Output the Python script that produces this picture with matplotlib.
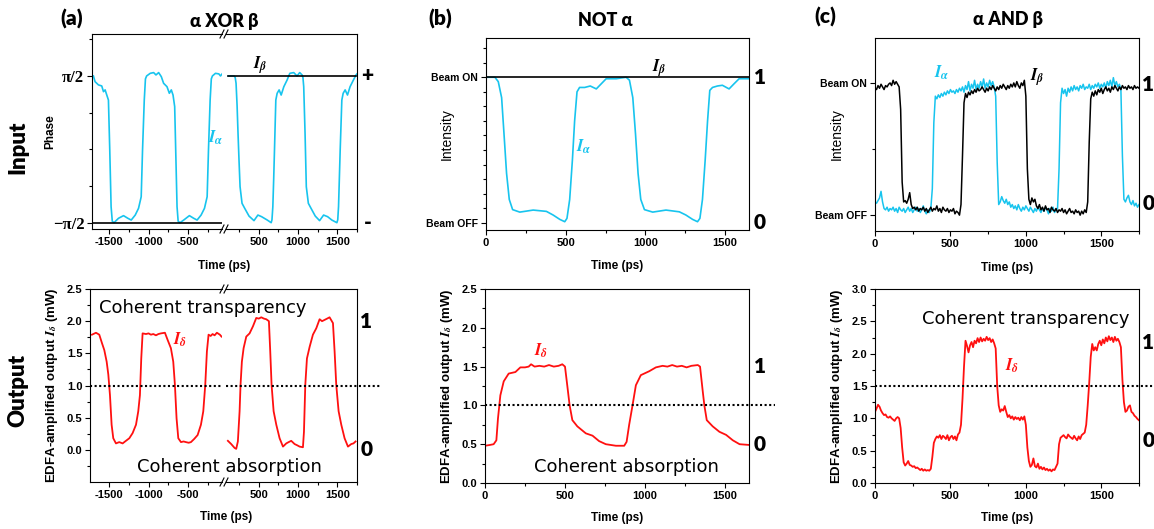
import numpy as np
import matplotlib
matplotlib.use('Agg')
import matplotlib.pyplot as plt
from matplotlib.lines import Line2D
from matplotlib.ticker import MultipleLocator, FixedLocator
from matplotlib.transforms import blended_transform_factory as btf

plt.rcParams['mathtext.fontset'] = 'stix'
plt.rcParams['font.family'] = ['Liberation Sans', 'DejaVu Sans']
plt.rcParams['font.weight'] = 'bold'
plt.rcParams['axes.labelweight'] = 'bold'
plt.rcParams['axes.unicode_minus'] = False

# ---------------- data ----------------
# (a) input: phase of I_alpha in units of pi (broken time axis)
a_in_left_t = [-1702, -1681, -1638, -1596, -1574, -1553, -1532, -1511, -1494, -1477, -1462, -1440,
               -1383, -1319, -1264, -1221, -1170, -1128, -1094, -1077, -1055, -1040, -1025,
               -979, -936, -906, -872, -838, -809, -766, -736, -711, -689, -668, -655, -638, -624, -600,
               -553, -481, -426, -383, -332, -289, -255, -238, -217, -202, -188, -149, -106, -85, -51]
a_in_left_v = [0.5, 0.461, 0.439, 0.432, 0.393, 0.405, 0.370, 0.336, -0.005, -0.391, -0.49, -0.5,
               -0.470, -0.452, -0.470, -0.482, -0.448, -0.402, -0.323, -0.005, 0.336, 0.48, 0.5,
               0.518, 0.523, 0.507, 0.523, 0.495, 0.45, 0.427, 0.382, 0.405, 0.370, 0.291, -0.005, -0.391, -0.49, -0.5,
               -0.482, -0.452, -0.470, -0.482, -0.448, -0.402, -0.323, -0.005, 0.336, 0.48, 0.5, 0.518, 0.514, 0.5, 0.523]
a_in_right_t = [114, 186, 200, 211, 224, 236, 249, 262, 287, 321, 376, 439, 489, 536, 608, 658, 668, 679,
                690, 700, 717, 734, 759, 785, 819, 861, 895, 945, 987, 1021, 1051, 1062, 1072, 1089, 1105,
                1131, 1165, 1219, 1274, 1325, 1376, 1430, 1494, 1505, 1515, 1536, 1557, 1574, 1599, 1629,
                1662, 1705, 1738, 1750]
a_in_right_v = [0.5, 0.5, 0.49, 0.45, 0.30, 0.109, -0.08, -0.255, -0.368, -0.402, -0.455, -0.486, -0.448,
                -0.459, -0.482, -0.5, -0.48, -0.391, -0.2, -0.005, 0.336, 0.382, 0.405, 0.370, 0.427, 0.473,
                0.518, 0.523, 0.5, 0.523, 0.507, 0.49, 0.427, 0.109, -0.255, -0.368, -0.402, -0.455, -0.486,
                -0.448, -0.459, -0.482, -0.5, -0.48, -0.391, -0.005, 0.336, 0.382, 0.405, 0.370, 0.427,
                0.473, 0.507, 0.514]
a_beta_left_t = [-1720, -66]
a_beta_left_v = [-0.5, -0.5]
a_beta_right_t = [107, 1740]
a_beta_right_v = [0.5, 0.5]

# (a) output (mW)
a_out_left_t = [-1720, -1669, -1627, -1593, -1563, -1533, -1512, -1491, -1470, -1449,
                -1415, -1373, -1330, -1288, -1245, -1203, -1160, -1131, -1110, -1093,
                -1076, -1033, -1000, -970, -940, -906, -875, -843, -792, -758,
                -716, -686, -665, -644, -622, -588, -555, -525, -490, -461,
                -419, -376, -334, -304, -279, -258, -237, -210, -186, -160,
                -131, -93, -72]
a_out_left_v = [1.79, 1.82, 1.79, 1.66, 1.55, 1.37, 1.17, 0.85, 0.39, 0.18,
                0.10, 0.12, 0.10, 0.14, 0.18, 0.26, 0.39, 0.60, 0.85, 1.42,
                1.81, 1.80, 1.81, 1.79, 1.80, 1.78, 1.80, 1.81, 1.82, 1.71,
                1.58, 1.37, 1.01, 0.49, 0.18, 0.12, 0.13, 0.12, 0.11, 0.12,
                0.17, 0.23, 0.39, 0.60, 1.01, 1.53, 1.79, 1.77, 1.80, 1.78,
                1.82, 1.79, 1.76]
a_out_right_t = [107, 149, 192, 213, 234, 256, 268, 285, 307, 341,
                 383, 426, 468, 500, 532, 565, 595, 629, 646, 663,
                 689, 723, 765, 808, 850, 880, 913, 956, 990, 1020,
                 1062, 1075, 1092, 1113, 1147, 1189, 1232, 1274, 1305, 1338,
                 1370, 1401, 1444, 1465, 1486, 1516, 1550, 1592, 1635, 1677,
                 1705, 1732]
a_out_right_v = [0.14, 0.09, 0.03, 0.015, 0.13, 0.60, 1.01, 1.37, 1.58, 1.76,
                 1.81, 1.92, 2.05, 2.04, 2.06, 2.04, 2.03, 2.00, 1.53, 1.01,
                 0.60, 0.39, 0.18, 0.05, 0.10, 0.12, 0.14, 0.09, 0.07, 0.05,
                 0.04, 0.28, 1.01, 1.42, 1.60, 1.79, 1.89, 2.03, 2.00, 2.02,
                 2.04, 2.06, 1.97, 1.53, 1.01, 0.60, 0.39, 0.18, 0.05, 0.09,
                 0.10, 0.13]

# (b) input intensity (normalised)
b_in_t = [0, 56, 77, 98, 113, 129, 146, 167, 212, 296, 379, 421, 463, 494, 508, 525, 542, 556, 571,
          587, 619, 654, 692, 723, 754, 817, 879, 900, 921, 938, 954, 971, 994, 1046, 1129, 1213,
          1254, 1296, 1327, 1342, 1358, 1375, 1390, 1404, 1421, 1452, 1483, 1525, 1556, 1588, 1646]
b_in_v = [1.0, 1.0, 0.97, 0.86, 0.61, 0.34, 0.16, 0.09, 0.073, 0.087, 0.078, 0.053, 0.023, 0.007,
          0.03, 0.16, 0.43, 0.70, 0.90, 0.93, 0.93, 0.94, 0.92, 0.955, 0.99, 0.99, 1.0, 0.98, 0.86,
          0.61, 0.34, 0.16, 0.09, 0.073, 0.087, 0.075, 0.053, 0.023, 0.007, 0.03, 0.16, 0.43, 0.70,
          0.91, 0.93, 0.94, 0.945, 0.92, 0.955, 0.99, 0.99]
b_beta_t = [0, 1650]
b_beta_v = [1.0, 1.0]

# (b) output (mW)
b_out_t = [0, 30, 54, 71, 81, 96, 117, 148, 190, 221,
           250, 273, 288, 310, 340, 370, 400, 430, 460, 483,
           500, 514, 529, 546, 577, 630, 672, 713, 755, 818,
           870, 885, 901, 922, 943, 974, 1026, 1068, 1110, 1140,
           1170, 1200, 1230, 1260, 1290, 1330, 1344, 1361, 1371, 1386,
           1423, 1465, 1507, 1549, 1591, 1653]
b_out_v = [0.48, 0.49, 0.50, 0.55, 0.83, 1.13, 1.31, 1.41, 1.43, 1.49,
           1.49, 1.50, 1.53, 1.50, 1.51, 1.50, 1.52, 1.50, 1.51, 1.53,
           1.50, 1.26, 1.00, 0.81, 0.73, 0.64, 0.61, 0.54, 0.50, 0.48,
           0.48, 0.53, 0.75, 1.00, 1.26, 1.39, 1.44, 1.49, 1.51, 1.50,
           1.52, 1.50, 1.51, 1.49, 1.51, 1.52, 1.50, 1.18, 1.00, 0.81,
           0.73, 0.66, 0.62, 0.55, 0.50, 0.49]

# (c) sampled every 10 ps from 0 to 1750 ps
c_t = list(range(0, 1751, 10))
c_beta = [0.96, 0.95, 0.98, 0.96, 0.99, 0.97, 0.95, 0.98, 0.97, 0.99,
          1.00, 0.98, 1.02, 0.99, 1.01, 0.99, 0.97, 0.80, 0.25, 0.10,
          0.11, 0.09, 0.12, 0.17, 0.08, 0.05, 0.06, 0.04, 0.06, 0.03,
          0.05, 0.04, 0.06, 0.03, 0.05, 0.02, 0.04, 0.06, 0.03, 0.05,
          0.04, 0.07, 0.03, 0.05, 0.02, 0.06, 0.04, 0.03, 0.05, 0.02,
          0.04, 0.03, 0.05, 0.01, 0.03, 0.02, 0.00, 0.08, 0.45, 0.85,
          0.92, 0.89, 0.93, 0.91, 0.94, 0.92, 0.95, 0.93, 0.96, 0.94,
          0.95, 0.97, 0.95, 0.93, 0.96, 0.94, 0.97, 0.95, 0.98, 0.96,
          0.94, 0.97, 0.95, 0.98, 0.96, 0.99, 0.97, 0.95, 0.98, 0.96,
          0.99, 0.97, 1.00, 0.97, 1.01, 0.98, 0.96, 1.00, 0.98, 1.02,
          0.90, 0.35, 0.12, 0.08, 0.13, 0.10, 0.12, 0.07, 0.05, 0.08,
          0.04, 0.06, 0.03, 0.07, 0.04, 0.05, 0.02, 0.06, 0.04, 0.03,
          0.05, 0.02, 0.04, 0.03, 0.05, 0.02, 0.04, 0.01, 0.03, 0.05,
          0.02, 0.03, 0.01, 0.04, 0.02, 0.03, 0.00, 0.03, 0.01, 0.04,
          0.02, 0.10, 0.55, 0.88, 0.93, 0.90, 0.94, 0.91, 0.95, 0.93,
          0.96, 0.92, 0.95, 0.97, 0.94, 0.96, 0.93, 0.97, 0.95, 0.98,
          0.96, 0.94, 0.97, 0.95, 0.98, 0.96, 0.97, 0.95, 0.98, 0.96,
          0.97, 0.95, 0.98, 0.96, 0.97, 0.96]
c_alpha = [0.10, 0.09, 0.11, 0.13, 0.18, 0.10, 0.05, 0.04, 0.06, 0.03,
           0.05, 0.04, 0.06, 0.03, 0.05, 0.02, 0.06, 0.04, 0.03, 0.05,
           0.02, 0.04, 0.06, 0.03, 0.05, 0.02, 0.04, 0.06, 0.03, 0.05,
           0.02, 0.04, 0.07, 0.03, 0.01, 0.04, 0.02, 0.05, 0.20, 0.70,
           0.90, 0.88, 0.91, 0.89, 0.92, 0.90, 0.93, 0.91, 0.94, 0.92,
           0.95, 0.93, 0.94, 0.92, 0.95, 0.93, 0.96, 0.94, 0.97, 0.93,
           0.98, 0.95, 1.01, 0.94, 0.99, 0.96, 1.02, 0.95, 0.99, 0.96,
           1.01, 0.97, 1.03, 0.96, 1.00, 0.97, 1.02, 0.98, 1.01, 0.97,
           0.90, 0.40, 0.08, 0.10, 0.14, 0.11, 0.09, 0.12, 0.08, 0.10,
           0.06, 0.08, 0.05, 0.07, 0.04, 0.08, 0.05, 0.03, 0.06, 0.04,
           0.07, 0.05, 0.03, 0.06, 0.04, 0.02, 0.05, 0.03, 0.06, 0.04,
           0.02, 0.05, 0.03, 0.06, 0.04, 0.01, 0.05, 0.03, 0.06, 0.02,
           0.04, 0.05, 0.35, 0.85, 0.96, 0.92, 0.95, 0.90, 0.96, 0.93,
           0.97, 0.94, 0.98, 0.95, 0.97, 0.94, 0.98, 0.96, 0.99, 0.95,
           0.97, 0.96, 0.99, 0.95, 0.98, 0.96, 0.99, 0.97, 1.00, 0.96,
           0.99, 0.97, 1.00, 0.96, 1.01, 0.98, 1.02, 0.97, 1.04, 0.98,
           1.01, 0.97, 0.99, 0.95, 0.45, 0.12, 0.10, 0.13, 0.15, 0.10,
           0.08, 0.11, 0.07, 0.09, 0.06, 0.08]
c_out = [1.10, 1.15, 1.21, 1.18, 1.12, 1.08, 1.05, 1.06, 1.02, 1.01,
         1.03, 1.00, 0.98, 0.96, 1.00, 1.02, 1.00, 0.85, 0.55, 0.32,
         0.27, 0.30, 0.34, 0.28, 0.27, 0.25, 0.26, 0.23, 0.24, 0.22,
         0.20, 0.22, 0.19, 0.21, 0.19, 0.20, 0.19, 0.22, 0.40, 0.62,
         0.68, 0.72, 0.70, 0.74, 0.68, 0.73, 0.71, 0.68, 0.74, 0.66,
         0.71, 0.73, 0.68, 0.72, 0.66, 0.75, 0.78, 0.90, 1.30, 1.80,
         2.20, 2.12, 2.02, 2.13, 2.18, 2.10, 2.20, 2.16, 2.24, 2.18,
         2.25, 2.19, 2.23, 2.20, 2.26, 2.21, 2.24, 2.18, 2.22, 2.16,
         2.08, 1.50, 1.20, 1.10, 1.14, 1.12, 1.19, 1.10, 1.02, 1.05,
         1.00, 1.03, 0.98, 1.02, 0.99, 1.01, 0.97, 1.02, 0.98, 1.03,
         0.90, 0.55, 0.34, 0.25, 0.28, 0.38, 0.26, 0.24, 0.30, 0.22,
         0.25, 0.21, 0.24, 0.20, 0.22, 0.19, 0.21, 0.18, 0.21, 0.20,
         0.25, 0.30, 0.60, 0.70, 0.72, 0.74, 0.71, 0.69, 0.75, 0.72,
         0.70, 0.68, 0.73, 0.69, 0.66, 0.72, 0.68, 0.74, 0.76, 0.78,
         0.90, 1.20, 1.55, 1.95, 2.15, 2.05, 2.10, 2.05, 2.15, 2.20,
         2.13, 2.22, 2.16, 2.25, 2.19, 2.27, 2.21, 2.25, 2.18, 2.26,
         2.20, 2.23, 2.18, 2.10, 1.60, 1.25, 1.10, 1.12, 1.18, 1.20,
         1.10, 1.08, 1.04, 1.02, 0.99, 0.97]

# ---------------- styling ----------------
CYAN = '#17C4EE'
RED = '#FF1010'
W, H = 1154, 529
fig = plt.figure(figsize=(W / 100, H / 100), dpi=100)
SANS = ['Liberation Sans', 'DejaVu Sans']
BIG = ['Lato', 'DejaVu Sans']
MATH_FS = 12
TICK_FS = 8


def rect(l, t, r, b):
    return [l / W, 1 - b / H, (r - l) / W, (b - t) / H]


def base(ax):
    for s in ax.spines.values():
        s.set_linewidth(0.8)
    ax.set_facecolor('none')
    ax.tick_params(which='both', direction='out', width=0.8, labelsize=TICK_FS, pad=2)
    ax.tick_params(which='major', length=3.5)
    ax.tick_params(which='minor', length=2)


def side(ax, x, y, s):
    ax.text(x, y, s, transform=btf(ax.transAxes, ax.transData), ha='center', va='center',
            fontsize=15, family=BIG, fontweight='heavy', clip_on=False)


def mlab(ax, x, y, s, color):
    ax.text(x, y, s, color=color, fontsize=MATH_FS, fontweight='normal', ha='center', va='center',
            clip_on=False, zorder=5)


def phrase(ax, x, y, s):
    ax.text(x, y, s, fontsize=13, fontweight='normal', family='DejaVu Sans', ha='left', va='center',
            clip_on=False, zorder=5)


def brk(xpx, ypx):
    fig.add_artist(Line2D([(xpx - 2) / W, (xpx + 2) / W], [1 - (ypx + 4) / H, 1 - (ypx - 4) / H],
                          color='k', lw=0.8))


def dotted(ax, y, xmax):
    ax.axhline(y, xmin=0, xmax=xmax, color='k', lw=1.5, ls=(0, (1, 1.2)), clip_on=False)


EDFA = r'EDFA-amplified output $I_{\delta}$ (mW)'

# ===== (a) input =====
aL = fig.add_axes(rect(92, 34, 222, 229))
aR = fig.add_axes(rect(226, 34, 357, 229))
for ax in (aL, aR):
    base(ax)
    ax.set_ylim(-0.543, 0.786)
aL.set_xlim(-1720, -66)
aR.set_xlim(83, 1750)
aL.spines['right'].set_visible(False)
aR.spines['left'].set_visible(False)
aR.tick_params(which='both', left=False, labelleft=False)
aL.plot(a_in_left_t, a_in_left_v, color=CYAN, lw=1.2)
aR.plot(a_in_right_t, a_in_right_v, color=CYAN, lw=1.2)
aL.plot(a_beta_left_t, a_beta_left_v, color='k', lw=1.2)
aR.plot(a_beta_right_t, a_beta_right_v, color='k', lw=1.2)
aL.set_xticks([-1500, -1000, -500])
aL.xaxis.set_minor_locator(FixedLocator([-1250, -750, -250]))
aR.set_xticks([500, 1000, 1500])
aR.xaxis.set_minor_locator(FixedLocator([250, 750, 1250, 1750]))
aL.set_yticks([-0.5, 0.5], labels=['\u2212\u03c0/2', '\u03c0/2'], family=['Liberation Serif', 'DejaVu Serif'],
              fontsize=12, fontweight='bold')
aL.yaxis.set_minor_locator(FixedLocator([-0.25, 0, 0.25, 0.75]))
aL.set_ylabel('Phase', fontsize=8.5, va='center')
aL.yaxis.set_label_coords(-0.318, 0.5)
aL.set_xlabel('Time (ps)', fontsize=8.5, va='center')
aL.xaxis.set_label_coords(1.015, -0.19)
mlab(aL, -142, 0.08, r'$I_{\alpha}$', CYAN)
mlab(aR, 516, 0.575, r'$I_{\beta}$', 'k')
side(aR, 1.08, 0.5, '+')
side(aR, 1.08, -0.5, '-')
for y in (34, 229):
    brk(222, y)
    brk(226, y)

# ===== (a) output =====
oL = fig.add_axes(rect(90, 289, 222, 482))
oR = fig.add_axes(rect(226, 289, 357, 482))
for ax in (oL, oR):
    base(ax)
    ax.set_ylim(-0.5, 2.5)
oL.set_xlim(-1745, -66)
oR.set_xlim(83, 1750)
oL.spines['right'].set_visible(False)
oR.spines['left'].set_visible(False)
oR.tick_params(which='both', left=False, labelleft=False)
oL.plot(a_out_left_t, a_out_left_v, color=RED, lw=1.3)
oR.plot(a_out_right_t, a_out_right_v, color=RED, lw=1.3)
dotted(oL, 1.0, 1.0)
dotted(oR, 1.0, 1.18)
oL.set_xticks([-1500, -1000, -500])
oL.xaxis.set_minor_locator(FixedLocator([-1750, -1250, -750, -250]))
oR.set_xticks([500, 1000, 1500])
oR.xaxis.set_minor_locator(FixedLocator([250, 750, 1250, 1750]))
oL.set_yticks([0, 0.5, 1.0, 1.5, 2.0, 2.5], labels=['0.0', '0.5', '1.0', '1.5', '2.0', '2.5'])
oL.yaxis.set_minor_locator(FixedLocator([-0.25, 0.25, 0.75, 1.25, 1.75, 2.25]))
oL.set_ylabel(EDFA, fontsize=9.5, va='center')
oL.yaxis.set_label_coords(-0.29, 0.5)
oL.set_xlabel('Time (ps)', fontsize=8.5, va='center')
oL.xaxis.set_label_coords(1.03, -0.18)
mlab(oL, -600, 1.71, r'$I_{\delta}$', RED)
phrase(oL, -1631, 2.21, 'Coherent transparency')
phrase(oL, -1147, -0.26, 'Coherent absorption')
side(oR, 1.07, 2.0, '1')
side(oR, 1.07, 0.0, '0')
for y in (289, 482):
    brk(222, y)
    brk(226, y)

# ===== (b) input =====
bI = fig.add_axes(rect(486, 38, 749, 230))
base(bI)
bI.set_xlim(0, 1650)
bI.set_ylim(-0.05, 1.27)
bI.plot(b_in_t, b_in_v, color=CYAN, lw=1.2)
bI.plot(b_beta_t, b_beta_v, color='k', lw=1.2)
bI.set_xticks([0, 500, 1000, 1500])
bI.xaxis.set_minor_locator(MultipleLocator(250))
bI.set_yticks([0, 1], labels=['Beam OFF', 'Beam ON'], fontsize=7.5)
bI.yaxis.set_minor_locator(FixedLocator([0.1, 0.2, 0.3, 0.4, 0.5, 0.6, 0.7, 0.8, 0.9, 1.1, 1.2]))
bI.set_ylabel('Intensity', fontsize=10, fontweight='normal', va='center')
bI.yaxis.set_label_coords(-0.148, 0.5)
bI.set_xlabel('Time (ps)', fontsize=8.5, va='center')
bI.xaxis.set_label_coords(0.5, -0.19)
mlab(bI, 612, 0.52, r'$I_{\alpha}$', CYAN)
mlab(bI, 1087, 1.06, r'$I_{\beta}$', 'k')
side(bI, 1.04, 1.0, '1')
side(bI, 1.04, 0.0, '0')

# ===== (b) output =====
bO = fig.add_axes(rect(485, 289, 749, 483))
base(bO)
bO.set_xlim(0, 1650)
bO.set_ylim(0, 2.5)
bO.plot(b_out_t, b_out_v, color=RED, lw=1.3)
dotted(bO, 1.0, 1.10)
bO.set_xticks([0, 500, 1000, 1500])
bO.xaxis.set_minor_locator(MultipleLocator(250))
bO.set_yticks([0, 0.5, 1.0, 1.5, 2.0, 2.5], labels=['0.0', '0.5', '1.0', '1.5', '2.0', '2.5'])
bO.yaxis.set_minor_locator(MultipleLocator(0.25))
bO.set_ylabel(EDFA, fontsize=9.5, va='center')
bO.yaxis.set_label_coords(-0.144, 0.5)
bO.set_xlabel('Time (ps)', fontsize=8.5, va='center')
bO.xaxis.set_label_coords(0.5, -0.18)
mlab(bO, 350, 1.71, r'$I_{\delta}$', RED)
phrase(bO, 306, 0.21, 'Coherent absorption')
side(bO, 1.04, 1.5, '1')
side(bO, 1.04, 0.5, '0')

# ===== (c) input =====
cI = fig.add_axes(rect(875, 38, 1139, 231))
base(cI)
cI.set_xlim(0, 1750)
cI.set_ylim(-0.12, 1.34)
cI.plot(c_t, c_alpha, color=CYAN, lw=1.1)
cI.plot(c_t, c_beta, color='k', lw=1.1)
cI.set_xticks([0, 500, 1000, 1500])
cI.xaxis.set_minor_locator(MultipleLocator(250))
cI.set_yticks([0, 1], labels=['Beam OFF', 'Beam ON'], fontsize=7.5)
cI.yaxis.set_minor_locator(FixedLocator([0.5]))
cI.set_ylabel('Intensity', fontsize=10, fontweight='normal', va='center')
cI.yaxis.set_label_coords(-0.144, 0.5)
cI.set_xlabel('Time (ps)', fontsize=8.5, va='center')
cI.xaxis.set_label_coords(0.5, -0.19)
mlab(cI, 445, 1.076, r'$I_{\alpha}$', CYAN)
mlab(cI, 1075, 1.045, r'$I_{\beta}$', 'k')
side(cI, 1.035, 0.985, '1')
side(cI, 1.035, 0.09, '0')

# ===== (c) output =====
cO = fig.add_axes(rect(875, 289, 1139, 483))
base(cO)
cO.set_xlim(0, 1750)
cO.set_ylim(0, 3.0)
cO.plot(c_t, c_out, color=RED, lw=1.3)
dotted(cO, 1.5, 1.08)
cO.set_xticks([0, 500, 1000, 1500])
cO.xaxis.set_minor_locator(MultipleLocator(250))
cO.set_yticks([0, 0.5, 1.0, 1.5, 2.0, 2.5, 3.0], labels=['0.0', '0.5', '1.0', '1.5', '2.0', '2.5', '3.0'])
cO.yaxis.set_minor_locator(MultipleLocator(0.25))
cO.set_ylabel(EDFA, fontsize=9.5, va='center')
cO.yaxis.set_label_coords(-0.144, 0.5)
cO.set_xlabel('Time (ps)', fontsize=8.5, va='center')
cO.xaxis.set_label_coords(0.5, -0.18)
mlab(cO, 909, 1.82, r'$I_{\delta}$', RED)
phrase(cO, 312, 2.54, 'Coherent transparency')
side(cO, 1.035, 2.18, '1')
side(cO, 1.035, 0.66, '0')

# ===== titles and row labels =====
def ftext(xp, yp, s, **kw):
    fig.text(xp / W, 1 - yp / H, s, ha='center', va='center', **kw)

ftext(72, 19, '(a)', fontsize=15, family=BIG, fontweight='heavy')
ftext(224, 21, '\u03b1 XOR \u03b2', fontsize=13, family=BIG, fontweight='heavy')
ftext(440, 19, '(b)', fontsize=15, family=BIG, fontweight='heavy')
ftext(605, 21, 'NOT \u03b1', fontsize=13, family=BIG, fontweight='heavy')
ftext(825, 17, '(c)', fontsize=15, family=BIG, fontweight='heavy')
ftext(1008, 20, '\u03b1 AND \u03b2', fontsize=13, family=BIG, fontweight='heavy')
ftext(18, 147, 'Input', fontsize=16, family=BIG, fontweight='heavy', rotation=90)
ftext(18, 390, 'Output', fontsize=16, family=BIG, fontweight='heavy', rotation=90)

fig.savefig('out.png', dpi=100)
